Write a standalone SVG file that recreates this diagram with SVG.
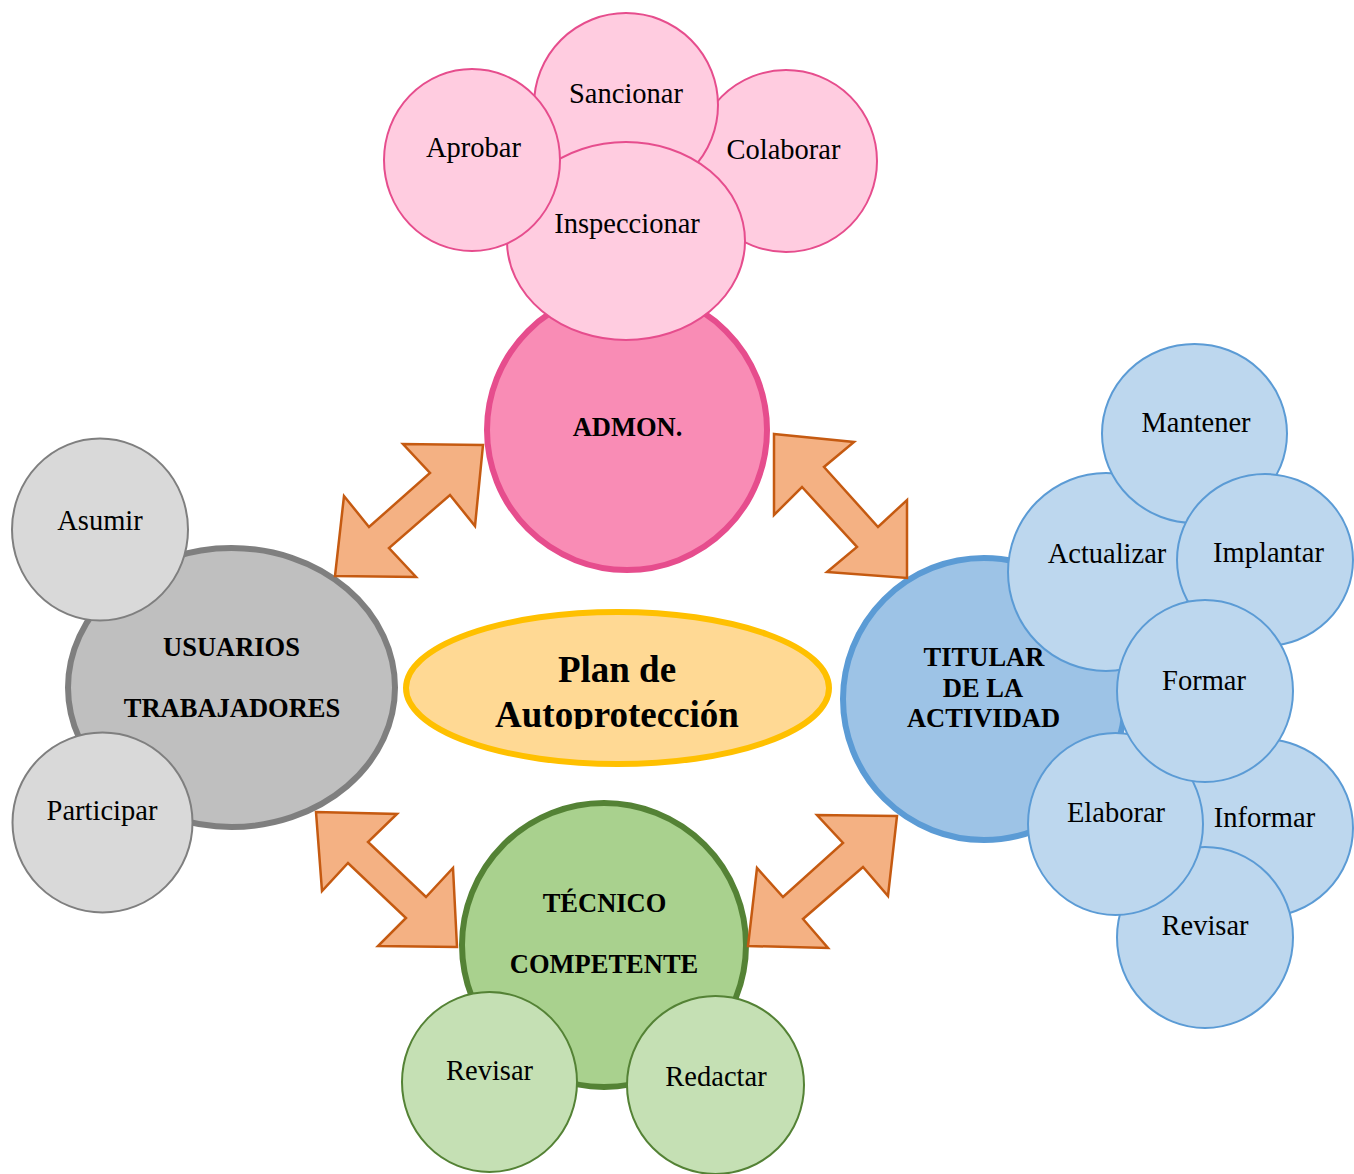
<svg xmlns="http://www.w3.org/2000/svg" width="1354" height="1174" viewBox="0 0 1354 1174">
<style>
.t{font-family:"Liberation Serif","Times New Roman",serif;font-size:28.5px;fill:#000;text-anchor:middle}
.b{font-family:"Liberation Serif","Times New Roman",serif;font-size:26.5px;font-weight:bold;fill:#000;text-anchor:middle}
.c{font-family:"Liberation Serif","Times New Roman",serif;font-size:37px;font-weight:bold;fill:#000;text-anchor:middle}
.pm{fill:#F98CB5;stroke:#E64D8D;stroke-width:6}
.ps{fill:#FFCCE0;stroke:#E64D8D;stroke-width:2}
.bm{fill:#9DC3E6;stroke:#5B9BD5;stroke-width:6}
.bs{fill:#BDD7EE;stroke:#5B9BD5;stroke-width:2}
.gm{fill:#BFBFBF;stroke:#7F7F7F;stroke-width:6}
.gs{fill:#D9D9D9;stroke:#7F7F7F;stroke-width:2}
.vm{fill:#A9D18E;stroke:#548235;stroke-width:6}
.vs{fill:#C5E0B4;stroke:#548235;stroke-width:2}
.ar{fill:#F4B183;stroke:#C55A11;stroke-width:2.5;stroke-linejoin:miter}
</style>
<defs>
<clipPath id="clipC"><rect x="400" y="600" width="440" height="129"/></clipPath>
</defs>
<rect width="1354" height="1174" fill="#fff"/>

<g id="center">
<ellipse cx="617.5" cy="688" rx="211.5" ry="76" fill="#FFD994" stroke="#FFC000" stroke-width="6"/>
<g clip-path="url(#clipC)">
<text class="c" x="617" y="682">Plan de</text>
<text class="c" x="617" y="727">Autoprotección</text>
</g>
</g>

<g id="admon">
<circle class="pm" cx="627" cy="430" r="140"/>
<text class="b" x="627.5" y="436">ADMON.</text>
</g>

<g id="usuarios">
<ellipse class="gm" cx="231.5" cy="687.5" rx="163.5" ry="139.5"/>
<text class="b" x="231.5" y="656">USUARIOS</text>
<text class="b" x="232" y="717">TRABAJADORES</text>
</g>

<g id="titular">
<circle class="bm" cx="984" cy="699" r="141"/>
<text class="b" x="984" y="666">TITULAR</text>
<text class="b" x="983" y="697">DE LA</text>
<text class="b" x="983.5" y="727">ACTIVIDAD</text>
</g>

<g id="tecnico">
<circle class="vm" cx="604" cy="945" r="142"/>
<text class="b" x="604.5" y="912">TÉCNICO</text>
<text class="b" x="604" y="973">COMPETENTE</text>
</g>

<g id="connectors">
<polygon class="ar" points="483,445 403,444 430,473 369,527 344,496 335,576 416,577 389,548 450,495 475,526"/>
<polygon class="ar" points="774,434 854,442 824,467 878,527 907,500 907,578 827,572 857,547 802,487 774,515"/>
<polygon class="ar" points="316,812 397,814 368,842 426,897 453,868 457,947 378,946 406,918 348,863 322,891"/>
<polygon class="ar" points="897,816 817,815 843,843 783,897 757,868 748,946 828,948 803,919 863,867 888,896"/>
</g>

<g id="colaborar"><circle class="ps" cx="786" cy="161" r="91"/><text class="t" x="783.5" y="159">Colaborar</text></g>
<g id="sancionar"><circle class="ps" cx="626" cy="105" r="92"/><text class="t" x="626" y="103">Sancionar</text></g>
<g id="inspeccionar"><ellipse class="ps" cx="626" cy="241" rx="119" ry="99"/><text class="t" x="627" y="233">Inspeccionar</text></g>
<g id="aprobar"><ellipse class="ps" cx="472" cy="160" rx="88" ry="91"/><text class="t" x="473.5" y="157">Aprobar</text></g>

<g id="asumir"><ellipse class="gs" cx="100" cy="529.5" rx="88" ry="91"/><text class="t" x="100" y="530">Asumir</text></g>
<g id="participar"><circle class="gs" cx="102.5" cy="822.5" r="90"/><text class="t" x="102" y="820">Participar</text></g>

<g id="revisar-tec"><ellipse class="vs" cx="489.5" cy="1082" rx="87.5" ry="90"/><text class="t" x="489.5" y="1080">Revisar</text></g>
<g id="redactar"><ellipse class="vs" cx="715.5" cy="1085" rx="88.5" ry="89"/><text class="t" x="716" y="1086">Redactar</text></g>

<g id="actualizar"><ellipse class="bs" cx="1106" cy="572" rx="98" ry="99"/><text class="t" x="1107" y="563">Actualizar</text></g>
<g id="mantener"><ellipse class="bs" cx="1194.5" cy="433.5" rx="92.5" ry="89.5"/><text class="t" x="1196" y="432">Mantener</text></g>
<g id="implantar"><ellipse class="bs" cx="1265" cy="560" rx="88" ry="86"/><text class="t" x="1268.5" y="562">Implantar</text></g>
<g id="informar"><ellipse class="bs" cx="1263" cy="828" rx="90" ry="89"/><text class="t" x="1264.5" y="827">Informar</text></g>
<g id="revisar-tit"><ellipse class="bs" cx="1205" cy="937.5" rx="88" ry="90.5"/><text class="t" x="1205" y="935">Revisar</text></g>
<g id="elaborar"><ellipse class="bs" cx="1115.5" cy="824" rx="87.5" ry="91"/><text class="t" x="1116" y="822">Elaborar</text></g>
<g id="formar"><ellipse class="bs" cx="1205" cy="691" rx="88" ry="91"/><text class="t" x="1204" y="690">Formar</text></g>
</svg>
